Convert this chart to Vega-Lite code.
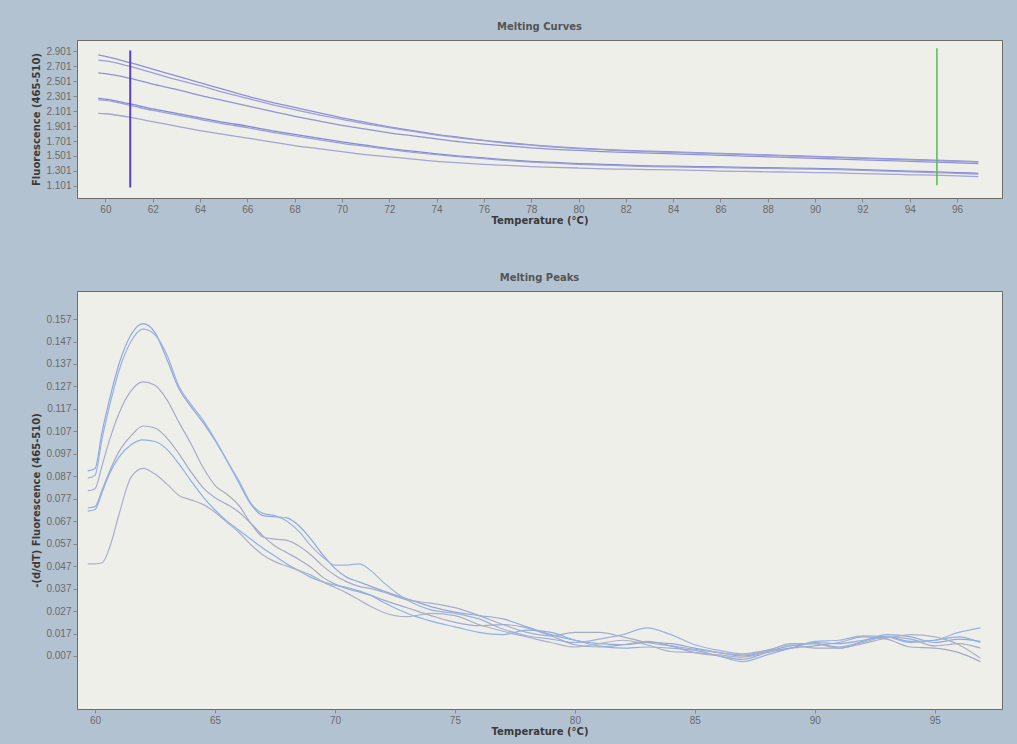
{
  "$schema": "https://vega.github.io/schema/vega-lite/v6.json",
  "background": "#b3c2d1",
  "padding": {"left": 31, "top": 21, "right": 15, "bottom": 7},
  "config": {
    "view": {"fill": "#efefe9", "stroke": "#6b6b6b", "strokeWidth": 1},
    "axis": {"labelFont": "Liberation Sans", "labelFontSize": 10, "labelColor": "#6a6a6a", "titleFont": "DejaVu Sans", "titleFontSize": 10, "titleFontWeight": "bold", "titleColor": "#3a3a3a", "tickColor": "#888888", "domain": false, "grid": false, "tickSize": 4, "labelPadding": 2, "labelOverlap": false},
    "title": {"font": "DejaVu Sans", "fontSize": 10, "fontWeight": "bold", "color": "#555555", "offset": 8},
    "concat": {"spacing": 46}
  },
  "resolve": {"scale": {"color": "independent"}},
  "datasets": {
    "melt": [
      {"t": 59.7, "A1": 2.85, "A2": 2.78, "A3": 2.61, "B1": 2.27, "B2": 2.25, "B3": 2.07},
      {"t": 60, "A1": 2.83, "A2": 2.77, "A3": 2.60, "B1": 2.26, "B2": 2.245, "B3": 2.065},
      {"t": 61, "A1": 2.75, "A2": 2.70, "A3": 2.54, "B1": 2.20, "B2": 2.18, "B3": 2.02},
      {"t": 62, "A1": 2.66, "A2": 2.61, "A3": 2.46, "B1": 2.13, "B2": 2.11, "B3": 1.96},
      {"t": 63, "A1": 2.57, "A2": 2.52, "A3": 2.39, "B1": 2.07, "B2": 2.05, "B3": 1.90},
      {"t": 64, "A1": 2.48, "A2": 2.44, "A3": 2.31, "B1": 2.01, "B2": 1.99, "B3": 1.84},
      {"t": 65, "A1": 2.39, "A2": 2.35, "A3": 2.24, "B1": 1.95, "B2": 1.93, "B3": 1.79},
      {"t": 66, "A1": 2.30, "A2": 2.27, "A3": 2.17, "B1": 1.90, "B2": 1.88, "B3": 1.74},
      {"t": 67, "A1": 2.22, "A2": 2.19, "A3": 2.10, "B1": 1.84, "B2": 1.82, "B3": 1.69},
      {"t": 68, "A1": 2.15, "A2": 2.12, "A3": 2.03, "B1": 1.79, "B2": 1.77, "B3": 1.64},
      {"t": 69, "A1": 2.08, "A2": 2.05, "A3": 1.97, "B1": 1.74, "B2": 1.72, "B3": 1.60},
      {"t": 70, "A1": 2.01, "A2": 1.99, "A3": 1.91, "B1": 1.69, "B2": 1.67, "B3": 1.56},
      {"t": 71, "A1": 1.95, "A2": 1.93, "A3": 1.86, "B1": 1.645, "B2": 1.63, "B3": 1.52},
      {"t": 72, "A1": 1.89, "A2": 1.88, "A3": 1.81, "B1": 1.60, "B2": 1.59, "B3": 1.49},
      {"t": 73, "A1": 1.84, "A2": 1.83, "A3": 1.77, "B1": 1.565, "B2": 1.55, "B3": 1.46},
      {"t": 74, "A1": 1.79, "A2": 1.78, "A3": 1.73, "B1": 1.53, "B2": 1.52, "B3": 1.43},
      {"t": 75, "A1": 1.75, "A2": 1.74, "A3": 1.69, "B1": 1.50, "B2": 1.49, "B3": 1.41},
      {"t": 76, "A1": 1.71, "A2": 1.705, "A3": 1.66, "B1": 1.475, "B2": 1.465, "B3": 1.39},
      {"t": 77, "A1": 1.68, "A2": 1.67, "A3": 1.635, "B1": 1.45, "B2": 1.44, "B3": 1.375},
      {"t": 78, "A1": 1.65, "A2": 1.645, "A3": 1.61, "B1": 1.43, "B2": 1.42, "B3": 1.36},
      {"t": 79, "A1": 1.625, "A2": 1.62, "A3": 1.59, "B1": 1.415, "B2": 1.405, "B3": 1.35},
      {"t": 80, "A1": 1.605, "A2": 1.60, "A3": 1.575, "B1": 1.40, "B2": 1.39, "B3": 1.34},
      {"t": 81, "A1": 1.59, "A2": 1.585, "A3": 1.56, "B1": 1.39, "B2": 1.38, "B3": 1.33},
      {"t": 82, "A1": 1.575, "A2": 1.57, "A3": 1.55, "B1": 1.38, "B2": 1.37, "B3": 1.325},
      {"t": 83, "A1": 1.565, "A2": 1.56, "A3": 1.54, "B1": 1.37, "B2": 1.36, "B3": 1.32},
      {"t": 84, "A1": 1.555, "A2": 1.55, "A3": 1.53, "B1": 1.365, "B2": 1.355, "B3": 1.315},
      {"t": 85, "A1": 1.545, "A2": 1.54, "A3": 1.52, "B1": 1.36, "B2": 1.35, "B3": 1.31},
      {"t": 86, "A1": 1.535, "A2": 1.53, "A3": 1.51, "B1": 1.355, "B2": 1.345, "B3": 1.30},
      {"t": 87, "A1": 1.525, "A2": 1.52, "A3": 1.50, "B1": 1.35, "B2": 1.34, "B3": 1.295},
      {"t": 88, "A1": 1.515, "A2": 1.51, "A3": 1.49, "B1": 1.345, "B2": 1.335, "B3": 1.29},
      {"t": 89, "A1": 1.505, "A2": 1.50, "A3": 1.48, "B1": 1.34, "B2": 1.33, "B3": 1.285},
      {"t": 90, "A1": 1.495, "A2": 1.49, "A3": 1.47, "B1": 1.335, "B2": 1.325, "B3": 1.28},
      {"t": 91, "A1": 1.485, "A2": 1.48, "A3": 1.46, "B1": 1.33, "B2": 1.32, "B3": 1.275},
      {"t": 92, "A1": 1.475, "A2": 1.47, "A3": 1.45, "B1": 1.32, "B2": 1.31, "B3": 1.265},
      {"t": 93, "A1": 1.465, "A2": 1.46, "A3": 1.44, "B1": 1.31, "B2": 1.30, "B3": 1.26},
      {"t": 94, "A1": 1.455, "A2": 1.45, "A3": 1.43, "B1": 1.30, "B2": 1.29, "B3": 1.25},
      {"t": 95, "A1": 1.445, "A2": 1.44, "A3": 1.42, "B1": 1.29, "B2": 1.28, "B3": 1.245},
      {"t": 96, "A1": 1.435, "A2": 1.43, "A3": 1.41, "B1": 1.28, "B2": 1.27, "B3": 1.235},
      {"t": 96.9, "A1": 1.425, "A2": 1.42, "A3": 1.40, "B1": 1.27, "B2": 1.26, "B3": 1.225}
    ],
    "peak": [
      {"t": 59.7, "P1": 0.0894, "P2": 0.0862, "P3": 0.0805, "P4": 0.0729, "P5": 0.0715, "P6": 0.048},
      {"t": 60.0, "P1": 0.0905, "P2": 0.0875, "P3": 0.0815, "P4": 0.0735, "P5": 0.0722, "P6": 0.048},
      {"t": 60.3, "P1": 0.107, "P2": 0.104, "P3": 0.092, "P4": 0.081, "P5": 0.080, "P6": 0.0485},
      {"t": 60.6, "P1": 0.121, "P2": 0.118, "P3": 0.103, "P4": 0.089, "P5": 0.088, "P6": 0.055},
      {"t": 61.0, "P1": 0.137, "P2": 0.134, "P3": 0.115, "P4": 0.098, "P5": 0.0955, "P6": 0.070},
      {"t": 61.5, "P1": 0.150, "P2": 0.147, "P3": 0.125, "P4": 0.105, "P5": 0.101, "P6": 0.0865},
      {"t": 62.0, "P1": 0.155, "P2": 0.1525, "P3": 0.129, "P4": 0.1094, "P5": 0.1032, "P6": 0.0905},
      {"t": 62.5, "P1": 0.151, "P2": 0.150, "P3": 0.1275, "P4": 0.1085, "P5": 0.1025, "P6": 0.088},
      {"t": 63.0, "P1": 0.139, "P2": 0.141, "P3": 0.121, "P4": 0.104, "P5": 0.099, "P6": 0.0835},
      {"t": 63.5, "P1": 0.126, "P2": 0.127, "P3": 0.111, "P4": 0.097, "P5": 0.0925, "P6": 0.0785},
      {"t": 64.0, "P1": 0.118, "P2": 0.119, "P3": 0.1015, "P4": 0.089, "P5": 0.085, "P6": 0.0765},
      {"t": 64.5, "P1": 0.111, "P2": 0.112, "P3": 0.091, "P4": 0.082, "P5": 0.078, "P6": 0.0745},
      {"t": 65.0, "P1": 0.103, "P2": 0.1035, "P3": 0.083, "P4": 0.0775, "P5": 0.072, "P6": 0.071},
      {"t": 65.5, "P1": 0.094, "P2": 0.094, "P3": 0.079, "P4": 0.0745, "P5": 0.067, "P6": 0.0665},
      {"t": 66.0, "P1": 0.084, "P2": 0.085, "P3": 0.074, "P4": 0.071, "P5": 0.063, "P6": 0.062},
      {"t": 66.5, "P1": 0.0745, "P2": 0.075, "P3": 0.066, "P4": 0.066, "P5": 0.059, "P6": 0.0565},
      {"t": 67.0, "P1": 0.0695, "P2": 0.0705, "P3": 0.060, "P4": 0.0605, "P5": 0.055, "P6": 0.052},
      {"t": 67.5, "P1": 0.069, "P2": 0.0695, "P3": 0.059, "P4": 0.056, "P5": 0.0515, "P6": 0.049},
      {"t": 68.0, "P1": 0.0685, "P2": 0.067, "P3": 0.0585, "P4": 0.053, "P5": 0.048, "P6": 0.047},
      {"t": 68.5, "P1": 0.065, "P2": 0.0625, "P3": 0.056, "P4": 0.050, "P5": 0.045, "P6": 0.045},
      {"t": 69.0, "P1": 0.059, "P2": 0.056, "P3": 0.052, "P4": 0.0465, "P5": 0.042, "P6": 0.043},
      {"t": 69.5, "P1": 0.052, "P2": 0.051, "P3": 0.047, "P4": 0.042, "P5": 0.040, "P6": 0.040},
      {"t": 70.0, "P1": 0.046, "P2": 0.0475, "P3": 0.043, "P4": 0.039, "P5": 0.0385, "P6": 0.0375},
      {"t": 70.5, "P1": 0.042, "P2": 0.0475, "P3": 0.040, "P4": 0.037, "P5": 0.0375, "P6": 0.035},
      {"t": 71.0, "P1": 0.040, "P2": 0.048, "P3": 0.038, "P4": 0.0355, "P5": 0.036, "P6": 0.032},
      {"t": 71.5, "P1": 0.038, "P2": 0.045, "P3": 0.037, "P4": 0.034, "P5": 0.034, "P6": 0.029},
      {"t": 72.0, "P1": 0.036, "P2": 0.040, "P3": 0.0355, "P4": 0.032, "P5": 0.031, "P6": 0.0265},
      {"t": 73, "P1": 0.0325, "P2": 0.032, "P3": 0.032, "P4": 0.0285, "P5": 0.026, "P6": 0.0245},
      {"t": 74, "P1": 0.029, "P2": 0.0275, "P3": 0.0305, "P4": 0.025, "P5": 0.0225, "P6": 0.026},
      {"t": 75, "P1": 0.0265, "P2": 0.026, "P3": 0.0285, "P4": 0.022, "P5": 0.020, "P6": 0.025},
      {"t": 76, "P1": 0.025, "P2": 0.0235, "P3": 0.025, "P4": 0.0205, "P5": 0.0175, "P6": 0.021},
      {"t": 77, "P1": 0.0235, "P2": 0.019, "P3": 0.021, "P4": 0.021, "P5": 0.0165, "P6": 0.018},
      {"t": 78, "P1": 0.020, "P2": 0.016, "P3": 0.0175, "P4": 0.0195, "P5": 0.0185, "P6": 0.0155},
      {"t": 79, "P1": 0.0165, "P2": 0.0145, "P3": 0.016, "P4": 0.016, "P5": 0.0175, "P6": 0.013},
      {"t": 80, "P1": 0.014, "P2": 0.013, "P3": 0.0175, "P4": 0.012, "P5": 0.014, "P6": 0.011},
      {"t": 81, "P1": 0.0125, "P2": 0.0145, "P3": 0.0175, "P4": 0.011, "P5": 0.0115, "P6": 0.0125},
      {"t": 82, "P1": 0.012, "P2": 0.0165, "P3": 0.0155, "P4": 0.012, "P5": 0.0105, "P6": 0.014},
      {"t": 83, "P1": 0.013, "P2": 0.0195, "P3": 0.013, "P4": 0.0135, "P5": 0.011, "P6": 0.012},
      {"t": 84, "P1": 0.0125, "P2": 0.0165, "P3": 0.0115, "P4": 0.0115, "P5": 0.0105, "P6": 0.009},
      {"t": 85, "P1": 0.0105, "P2": 0.012, "P3": 0.010, "P4": 0.0085, "P5": 0.0095, "P6": 0.0085},
      {"t": 86, "P1": 0.0085, "P2": 0.0095, "P3": 0.0085, "P4": 0.007, "P5": 0.007, "P6": 0.0075},
      {"t": 87, "P1": 0.007, "P2": 0.008, "P3": 0.0075, "P4": 0.0055, "P5": 0.0045, "P6": 0.0065},
      {"t": 88, "P1": 0.009, "P2": 0.0095, "P3": 0.0095, "P4": 0.0085, "P5": 0.0075, "P6": 0.009},
      {"t": 89, "P1": 0.0115, "P2": 0.0105, "P3": 0.012, "P4": 0.0105, "P5": 0.0105, "P6": 0.0125},
      {"t": 90, "P1": 0.0125, "P2": 0.0135, "P3": 0.0105, "P4": 0.0115, "P5": 0.013, "P6": 0.0125},
      {"t": 91, "P1": 0.011, "P2": 0.014, "P3": 0.0105, "P4": 0.013, "P5": 0.0125, "P6": 0.0105},
      {"t": 92, "P1": 0.0135, "P2": 0.016, "P3": 0.013, "P4": 0.0155, "P5": 0.014, "P6": 0.0125},
      {"t": 93, "P1": 0.0165, "P2": 0.0155, "P3": 0.0155, "P4": 0.0145, "P5": 0.0155, "P6": 0.015},
      {"t": 94, "P1": 0.0155, "P2": 0.013, "P3": 0.0145, "P4": 0.011, "P5": 0.0135, "P6": 0.0165},
      {"t": 95, "P1": 0.013, "P2": 0.014, "P3": 0.0115, "P4": 0.0105, "P5": 0.014, "P6": 0.0155},
      {"t": 96, "P1": 0.0145, "P2": 0.0175, "P3": 0.0125, "P4": 0.0085, "P5": 0.0155, "P6": 0.012},
      {"t": 96.9, "P1": 0.0135, "P2": 0.0195, "P3": 0.0105, "P4": 0.0045, "P5": 0.013, "P6": 0.006}
    ]
  },
  "vconcat": [
    {
      "title": "Melting Curves",
      "width": 925,
      "height": 158,
      "layer": [
        {
          "data": {"name": "melt"},
          "transform": [{"fold": ["A1", "A2", "A3", "B1", "B2", "B3"], "as": ["s", "v"]}],
          "mark": {"type": "line", "strokeWidth": 1.3, "interpolate": "monotone", "clip": true},
          "encoding": {
            "x": {"field": "t", "type": "quantitative", "scale": {"domain": [58.8, 97.9], "nice": false, "zero": false},
                  "axis": {"values": [60, 62, 64, 66, 68, 70, 72, 74, 76, 78, 80, 82, 84, 86, 88, 90, 92, 94, 96], "tickCount": 40, "title": "Temperature (°C)", "titlePadding": 1, "labelOverlap": false}},
            "y": {"field": "v", "type": "quantitative", "scale": {"domain": [0.94, 3.05], "nice": false, "zero": false},
                  "axis": {"values": [1.101, 1.301, 1.501, 1.701, 1.901, 2.101, 2.301, 2.501, 2.701, 2.901], "tickCount": 20, "format": ".3f", "title": "Fluorescence (465-510)", "titlePadding": 4, "labelOverlap": false}},
            "color": {"field": "s", "type": "nominal", "legend": null,
                      "scale": {"range": ["#8d90d8", "#9c9ed9", "#8f94d0", "#8288d4", "#9ca0d8", "#a3a5d2"]}}
          }
        },
        {
          "data": {"values": [{"t": 61.05, "lo": 1.08, "hi": 2.91}]},
          "mark": {"type": "rule", "color": "#5a3fc2", "strokeWidth": 2},
          "encoding": {"x": {"field": "t", "type": "quantitative"}, "y": {"field": "lo", "type": "quantitative"}, "y2": {"field": "hi"}}
        },
        {
          "data": {"values": [{"t": 95.15, "lo": 1.11, "hi": 2.94}]},
          "mark": {"type": "rule", "color": "#52bd52", "strokeWidth": 1.5},
          "encoding": {"x": {"field": "t", "type": "quantitative"}, "y": {"field": "lo", "type": "quantitative"}, "y2": {"field": "hi"}}
        }
      ]
    },
    {
      "title": "Melting Peaks",
      "width": 925,
      "height": 418,
      "data": {"name": "peak"},
      "transform": [{"fold": ["P1", "P2", "P3", "P4", "P5", "P6"], "as": ["s", "v"]}],
      "mark": {"type": "line", "strokeWidth": 1.2, "interpolate": "monotone", "clip": true},
      "encoding": {
        "x": {"field": "t", "type": "quantitative", "scale": {"domain": [59.25, 97.8], "nice": false, "zero": false},
              "axis": {"values": [60, 65, 70, 75, 80, 85, 90, 95], "tickCount": 20, "title": "Temperature (°C)", "titlePadding": 1, "labelOverlap": false}},
        "y": {"field": "v", "type": "quantitative", "scale": {"domain": [-0.0166, 0.1695], "nice": false, "zero": false},
              "axis": {"values": [0.007, 0.017, 0.027, 0.037, 0.047, 0.057, 0.067, 0.077, 0.087, 0.097, 0.107, 0.117, 0.127, 0.137, 0.147, 0.157], "tickCount": 30, "format": ".3f", "title": "-(d/dT) Fluorescence (465-510)", "titlePadding": 4, "labelOverlap": false}},
        "color": {"field": "s", "type": "nominal", "legend": null,
                  "scale": {"range": ["#8fa8dc", "#9ab2e2", "#a6acc8", "#a2aacc", "#8cb0ea", "#aab0c8"]}}
      }
    }
  ]
}
